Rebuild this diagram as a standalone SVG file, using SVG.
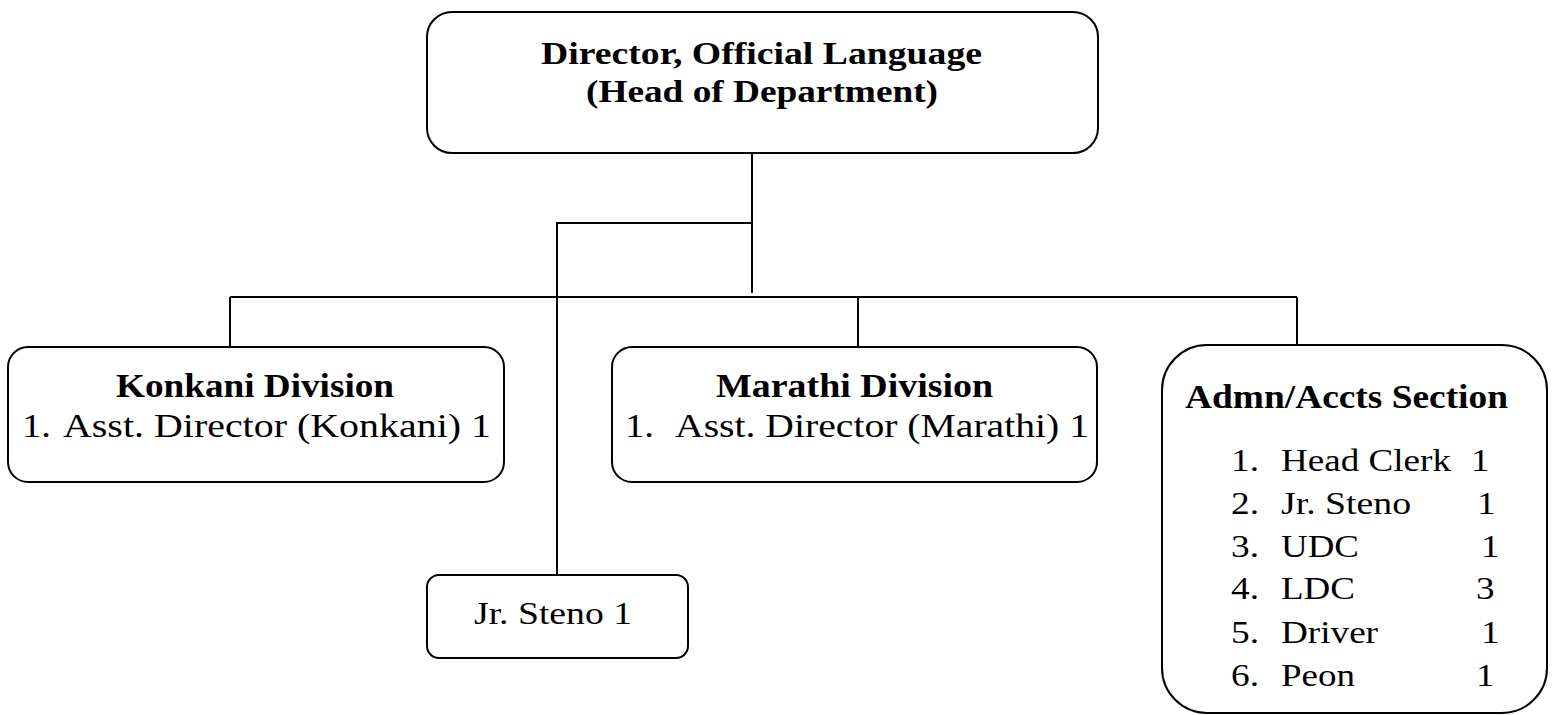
<svg xmlns="http://www.w3.org/2000/svg" width="1552" height="715" viewBox="0 0 1552 715">
<style>
.box{fill:#fff;stroke:#000;stroke-width:2}
.ln{fill:none;stroke:#000;stroke-width:2}
text{font-family:"Liberation Serif","Times New Roman",serif;font-size:32px;fill:#000}
.b{font-weight:bold}
.d{font-size:33px}
.r{font-size:34px}
</style>
<rect width="1552" height="715" fill="#fff"/>
<g id="connectors">
<path class="ln" d="M752,153 V293"/>
<path class="ln" d="M752,223 H557 V575"/>
<path class="ln" d="M230,297 H1297"/>
<path class="ln" d="M230,297 V347"/>
<path class="ln" d="M858,297 V347"/>
<path class="ln" d="M1297,297 V345"/>
</g>
<g id="director">
<rect class="box" x="427" y="12" width="671" height="141" rx="25"/>
<text class="b" x="541" y="64" textLength="441" lengthAdjust="spacingAndGlyphs">Director, Official Language</text>
<text class="b" x="586" y="102" textLength="352" lengthAdjust="spacingAndGlyphs">(Head of Department)</text>
</g>
<g id="konkani">
<rect class="box" x="8" y="347" width="496" height="135" rx="20"/>
<text class="b d" x="116" y="397" textLength="278" lengthAdjust="spacingAndGlyphs">Konkani Division</text>
<text class="r" x="22" y="437" textLength="29" lengthAdjust="spacingAndGlyphs">1.</text>
<text class="r" x="63" y="437" textLength="428" lengthAdjust="spacingAndGlyphs">Asst. Director (Konkani) 1</text>
</g>
<g id="marathi">
<rect class="box" x="612" y="347" width="485" height="135" rx="20"/>
<text class="b d" x="716" y="397" textLength="277" lengthAdjust="spacingAndGlyphs">Marathi Division</text>
<text class="r" x="625" y="437" textLength="29" lengthAdjust="spacingAndGlyphs">1.</text>
<text class="r" x="675" y="437" textLength="414" lengthAdjust="spacingAndGlyphs">Asst. Director (Marathi) 1</text>
</g>
<g id="steno">
<rect class="box" x="427" y="575" width="261" height="83" rx="12"/>
<text x="474" y="624" textLength="158" lengthAdjust="spacingAndGlyphs">Jr. Steno 1</text>
</g>
<g id="admn">
<rect class="box" x="1162" y="345" width="385" height="368" rx="45"/>
<text class="b d" x="1185" y="408" textLength="323" lengthAdjust="spacingAndGlyphs">Admn/Accts Section</text>
<text x="1231" y="471" textLength="28" lengthAdjust="spacingAndGlyphs">1.</text><text x="1281" y="471" textLength="170" lengthAdjust="spacingAndGlyphs">Head Clerk</text><text x="1471" y="471" textLength="18.5" lengthAdjust="spacingAndGlyphs">1</text>
<text x="1231" y="514" textLength="28" lengthAdjust="spacingAndGlyphs">2.</text><text x="1281" y="514" textLength="130" lengthAdjust="spacingAndGlyphs">Jr. Steno</text><text x="1477" y="514" textLength="18.5" lengthAdjust="spacingAndGlyphs">1</text>
<text x="1231" y="557" textLength="28" lengthAdjust="spacingAndGlyphs">3.</text><text x="1281" y="557" textLength="78" lengthAdjust="spacingAndGlyphs">UDC</text><text x="1481" y="557" textLength="18.5" lengthAdjust="spacingAndGlyphs">1</text>
<text x="1231" y="599" textLength="28" lengthAdjust="spacingAndGlyphs">4.</text><text x="1281" y="599" textLength="74" lengthAdjust="spacingAndGlyphs">LDC</text><text x="1476" y="599" textLength="18.5" lengthAdjust="spacingAndGlyphs">3</text>
<text x="1231" y="643" textLength="28" lengthAdjust="spacingAndGlyphs">5.</text><text x="1281" y="643" textLength="97" lengthAdjust="spacingAndGlyphs">Driver</text><text x="1481" y="643" textLength="18.5" lengthAdjust="spacingAndGlyphs">1</text>
<text x="1231" y="686" textLength="28" lengthAdjust="spacingAndGlyphs">6.</text><text x="1281" y="686" textLength="74" lengthAdjust="spacingAndGlyphs">Peon</text><text x="1476" y="686" textLength="18.5" lengthAdjust="spacingAndGlyphs">1</text>
</g>
</svg>
